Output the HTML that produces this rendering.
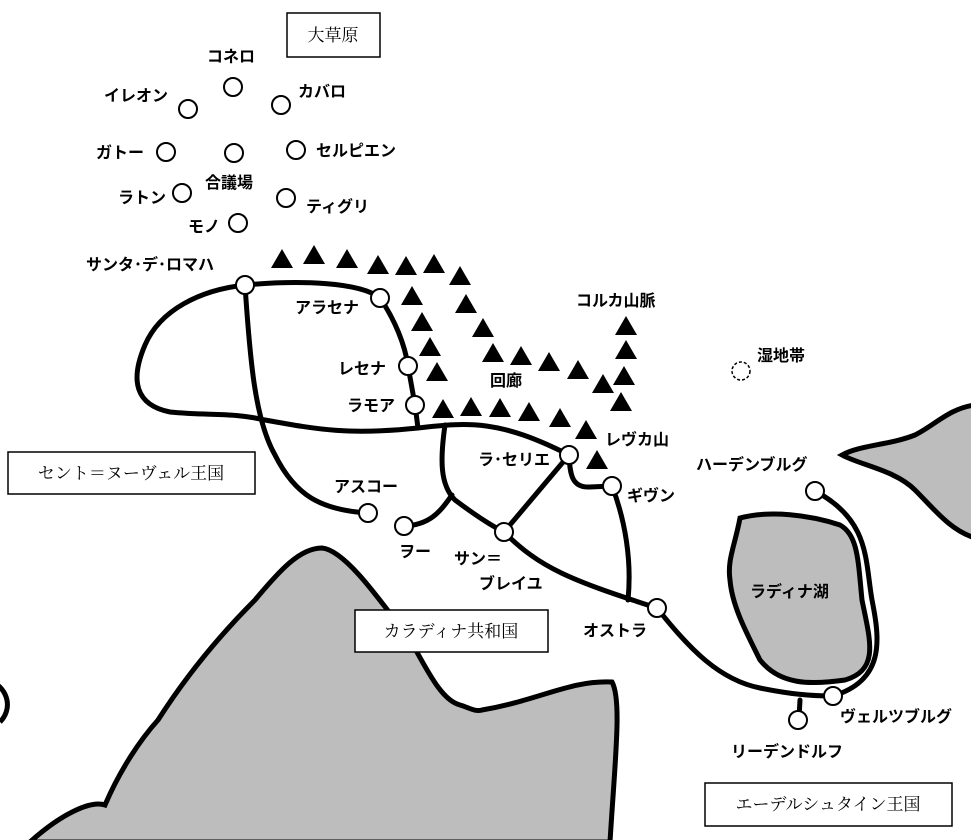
<!DOCTYPE html>
<html><head><meta charset="utf-8"><style>
body{margin:0;background:#fff;}
svg{display:block;}
.t{font-family:"Liberation Sans","Noto Sans CJK JP",sans-serif;font-weight:bold;font-size:16px;fill:#000;}
.s{font-family:"Liberation Serif","Noto Serif CJK SC",serif;font-size:17px;fill:#000;}
</style></head><body>
<svg width="971" height="840" viewBox="0 0 971 840" xmlns="http://www.w3.org/2000/svg">
<path d="M30,842 C60,815 90,800 105,805 C120,770 140,740 158,720 C190,670 225,630 255,600 C280,570 300,548 322,548 C345,550 380,600 410,640 C425,665 440,700 460,705 C470,708 475,712 482,710 C540,700 570,680 612,682 C622,700 615,760 610,842 Z" fill="#bdbdbd" stroke="#000" stroke-width="5"/>
<path d="M-10,680 C10,690 12,710 0,722" fill="none" stroke="#000" stroke-width="5"/>
<path d="M975,405 C950,408 935,425 915,435 C890,445 860,445 842,455 C860,465 895,470 915,490 C935,510 950,530 975,538 Z" fill="#bdbdbd" stroke="#000" stroke-width="5"/>
<path d="M740,518 C770,510 810,515 840,525 C858,535 858,560 862,600 C870,640 880,670 845,680 C810,685 780,685 760,660 C745,630 732,605 730,580 C727,560 735,545 740,518 Z" fill="#bdbdbd" stroke="#000" stroke-width="5"/>
<rect x="287" y="13" width="93" height="44" fill="#fff" stroke="#000" stroke-width="1.5"/>
<text class="s" x="333" y="41" text-anchor="middle">大草原</text>
<rect x="8" y="452" width="247" height="42" fill="#fff" stroke="#000" stroke-width="1.5"/>
<text class="s" x="131" y="479" text-anchor="middle">セント＝ヌーヴェル王国</text>
<rect x="355" y="610" width="193" height="42" fill="#fff" stroke="#000" stroke-width="1.5"/>
<text class="s" x="451" y="637" text-anchor="middle">カラディナ共和国</text>
<rect x="705" y="783" width="247" height="43" fill="#fff" stroke="#000" stroke-width="1.5"/>
<text class="s" x="828" y="810" text-anchor="middle">エーデルシュタイン王国</text>
<g fill="none" stroke="#000" stroke-width="5" stroke-linecap="round" stroke-linejoin="round">
<path d="M245,285 C200,290 160,310 145,345 C130,380 135,405 170,412 C210,416 230,412 265,420 C320,430 350,435 418,428 C470,422 500,420 569,455"/>
<path d="M245,285 C300,280 360,282 380,298"/>
<path d="M245,285 C250,360 255,420 275,455 C295,495 320,510 368,513"/>
<path d="M380,298 C395,320 405,345 408,366 L415,405 L418,428"/>
<path d="M445,425 C440,460 440,485 455,500 C475,515 490,525 504,532"/>
<path d="M452,495 C440,512 430,525 404,526"/>
<path d="M569,455 L504,532"/>
<path d="M569,455 C570,475 572,488 590,487 L612,486"/>
<path d="M612,486 C625,520 632,560 628,600"/>
<path d="M504,532 C540,568 570,580 657,608"/>
<path d="M657,608 C690,650 720,680 760,688 C790,694 810,696 833,696"/>
<path d="M833,696 C885,680 880,640 872,600 C865,560 870,520 815,491"/>
<path d="M800,700 L799,718"/>
</g>
<g fill="#fff" stroke="#000" stroke-width="2">
<circle cx="245" cy="285" r="9"/><circle cx="380" cy="298" r="9"/><circle cx="408" cy="366" r="9"/>
<circle cx="415" cy="405" r="9"/><circle cx="569" cy="455" r="9"/><circle cx="612" cy="486" r="9"/>
<circle cx="368" cy="513" r="9"/><circle cx="404" cy="526" r="9"/><circle cx="504" cy="532" r="9"/>
<circle cx="657" cy="608" r="9"/><circle cx="815" cy="491" r="9"/><circle cx="833" cy="696" r="9"/>
<circle cx="798" cy="720" r="9"/>
<circle cx="233" cy="87" r="9"/><circle cx="188" cy="109" r="9"/><circle cx="281" cy="105" r="9"/>
<circle cx="166" cy="152" r="9"/><circle cx="234" cy="153" r="9"/><circle cx="296" cy="150" r="9"/>
<circle cx="182" cy="193" r="9"/><circle cx="286" cy="198" r="9"/><circle cx="238" cy="223" r="9"/>
</g>
<circle cx="741" cy="371" r="9" fill="#fff" stroke="#000" stroke-width="1.5" stroke-dasharray="3,2"/>
<g fill="#000">
<path id="m" d="M0,-10 L11,9 L-11,9 Z" transform="translate(282,259)"/>
<use href="#m" x="32" y="-4"/><use href="#m" x="65" y="0"/><use href="#m" x="96" y="6"/><use href="#m" x="124" y="7"/><use href="#m" x="152" y="5"/><use href="#m" x="178" y="17"/>
<use href="#m" x="130" y="37"/><use href="#m" x="184" y="45"/><use href="#m" x="140" y="63"/><use href="#m" x="201" y="69"/><use href="#m" x="148" y="88"/><use href="#m" x="155" y="113"/>
<use href="#m" x="211" y="94"/><use href="#m" x="239" y="97"/><use href="#m" x="267" y="103"/><use href="#m" x="296" y="111"/><use href="#m" x="321" y="125"/>
<use href="#m" x="344" y="67"/><use href="#m" x="344" y="91"/><use href="#m" x="342" y="117"/><use href="#m" x="339" y="143"/>
<use href="#m" x="161" y="150"/><use href="#m" x="189" y="148"/><use href="#m" x="218" y="149"/><use href="#m" x="247" y="153"/><use href="#m" x="278" y="159"/><use href="#m" x="304" y="171"/><use href="#m" x="315" y="201"/>
</g>
<g class="t">
<text x="207" y="62">コネロ</text><text x="104" y="101">イレオン</text><text x="298" y="97">カバロ</text>
<text x="96" y="158">ガトー</text><text x="205" y="188">合議場</text><text x="316" y="156">セルピエン</text>
<text x="118" y="203">ラトン</text><text x="306" y="212">ティグリ</text><text x="188" y="232">モノ</text>
<text x="86" y="270">サンタ･デ･ロマハ</text><text x="295" y="313">アラセナ</text><text x="338" y="374">レセナ</text>
<text x="347" y="411">ラモア</text><text x="576" y="306">コルカ山脈</text><text x="490" y="386">回廊</text>
<text x="757" y="361">湿地帯</text><text x="605" y="445">レヴカ山</text><text x="478" y="465">ラ･セリエ</text>
<text x="627" y="501">ギヴン</text><text x="334" y="492">アスコー</text><text x="399" y="557">ヲー</text>
<text x="454" y="564">サン＝</text><text x="479" y="589">ブレイユ</text><text x="583" y="636">オストラ</text>
<text x="696" y="470">ハーデンブルグ</text><text x="750" y="597">ラディナ湖</text><text x="840" y="722">ヴェルツブルグ</text>
<text x="731" y="757">リーデンドルフ</text>
</g>
</svg>
</body></html>
